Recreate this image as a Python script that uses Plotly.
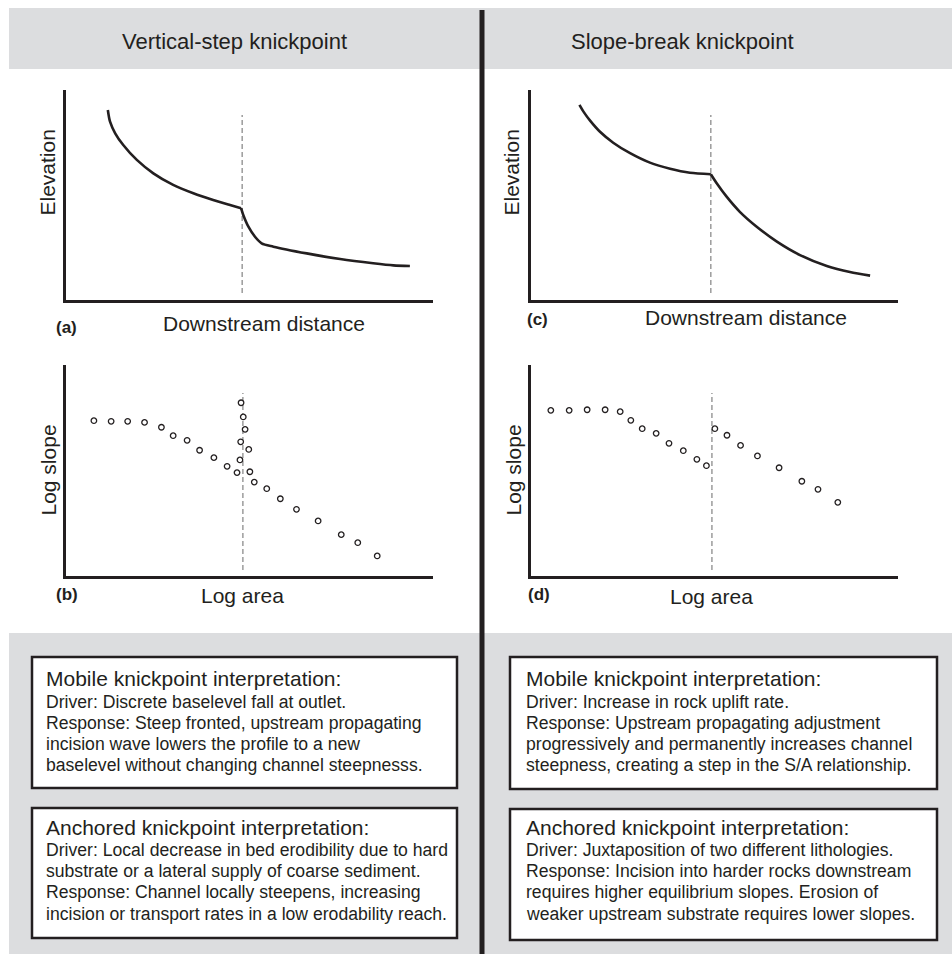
import plotly.graph_objects as go

W, H = 952, 954
INK = "#231f20"
GRAY_BG = "#dcdddf"
DASH_C = "#8c8c8c"
FONT = "Liberation Sans, Arial, Helvetica, sans-serif"

# ---------------- data (relative units 0-100) ----------------
# (a) vertical-step knickpoint: long profile
prof_a_up_x = [11.4, 12.0, 13.4, 15.6, 19.3, 23.8, 29.2, 34.7, 40.1, 44.7, 47.7]
prof_a_up_y = [90.5, 84.9, 79.4, 73.8, 66.7, 60.3, 54.8, 50.8, 47.6, 45.2, 43.7]
prof_a_dn_x = [47.7, 48.3, 49.7, 51.5, 53.3, 56.5, 65.6, 74.7, 83.7, 89.2, 93.7]
prof_a_dn_y = [43.7, 40.5, 34.9, 30.1, 27.0, 25.4, 22.2, 19.5, 17.5, 16.5, 16.2]
knick_a_x = 48.0

# (c) slope-break knickpoint: long profile
prof_c_up_x = [13.2, 14.3, 16.1, 18.8, 22.4, 27.0, 32.4, 37.9, 43.3, 49.0]
prof_c_up_y = [92.9, 89.7, 85.4, 80.1, 74.9, 69.9, 65.4, 62.5, 60.6, 59.9]
prof_c_dn_x = [49.0, 50.6, 53.3, 56.9, 61.5, 67.0, 73.3, 80.6, 86.9, 92.4]
prof_c_dn_y = [59.9, 55.6, 49.2, 42.0, 34.9, 27.8, 21.4, 16.2, 13.3, 11.6]
knick_c_x = 49.0

# (b) vertical-step knickpoint: slope-area
sa_b_x = [7.6, 12.3, 16.8, 21.4, 26.0, 29.2, 33.0, 36.4, 40.3, 43.9, 46.6,
          47.4, 47.6, 48.8, 48.3, 47.7,
          49.8, 50.1, 51.3, 54.7, 58.4, 62.8, 68.7, 75.0, 79.5, 84.8]
sa_b_y = [73.6, 73.3, 73.3, 72.8, 70.5, 66.5, 64.3, 59.6, 56.1, 52.0, 49.0,
          55.0, 63.6, 69.5, 75.4, 82.1,
          60.0, 49.4, 44.5, 41.4, 36.6, 31.6, 26.1, 19.6, 15.8, 9.5]
knick_b_x = 48.2

# (d) slope-break knickpoint: slope-area
sa_d_x = [5.4, 10.4, 15.3, 20.2, 24.3, 27.2, 30.3, 34.1, 37.6, 41.5, 45.2, 47.8,
          50.1, 53.4, 57.1, 61.7, 67.6, 73.8, 78.2, 83.6]
sa_d_y = [78.5, 78.5, 78.8, 78.8, 77.9, 73.8, 69.8, 67.6, 62.9, 59.4, 55.3, 52.3,
          69.8, 66.7, 61.9, 56.9, 51.3, 44.9, 41.1, 34.9]
knick_d_x = 49.3

dash_top_profile, dash_bot_profile = 88.1, 3.3
dash_top_sa, dash_bot_sa = 86.7, 2.8

header_left = "Vertical-step knickpoint"
header_right = "Slope-break knickpoint"

box_left_mobile = ["Mobile knickpoint interpretation:",
                   "Driver: Discrete baselevel fall at outlet.",
                   "Response: Steep fronted, upstream propagating",
                   "incision wave lowers the profile to a new",
                   "baselevel without changing channel steepnesss."]
box_left_anchored = ["Anchored knickpoint interpretation:",
                     "Driver: Local decrease in bed erodibility due to hard",
                     "substrate or a lateral supply of coarse sediment.",
                     "Response: Channel locally steepens, increasing",
                     "incision or transport rates in a low erodability reach."]
box_right_mobile = ["Mobile knickpoint interpretation:",
                    "Driver: Increase in rock uplift rate.",
                    "Response: Upstream propagating adjustment",
                    "progressively and permanently increases channel",
                    "steepness, creating a step in the S/A relationship."]
box_right_anchored = ["Anchored knickpoint interpretation:",
                      "Driver: Juxtaposition of two different lithologies.",
                      "Response: Incision into harder rocks downstream",
                      "requires higher equilibrium slopes. Erosion of",
                      "weaker upstream substrate requires lower slopes."]

# ---------------- layout helpers (pixels -> paper) ----------------
def px(p):
    return p / W

def py(p):
    return 1 - p / H

panels = {
    "a": dict(ax="", x0=66, x1=433, y0=90, y1=300),
    "c": dict(ax="2", x0=531, x1=898, y0=90, y1=300),
    "b": dict(ax="3", x0=66, x1=433, y0=365, y1=576),
    "d": dict(ax="4", x0=531, x1=898, y0=365, y1=576),
}

fig = go.Figure()

def add_line(panel, xs, ys):
    a = panels[panel]["ax"]
    fig.add_trace(go.Scatter(x=xs, y=ys, mode="lines", xaxis="x" + a, yaxis="y" + a,
                             line=dict(color=INK, width=2.6, shape="spline", smoothing=0.8),
                             hoverinfo="skip", showlegend=False))

def add_dash(panel, xk, ytop, ybot):
    a = panels[panel]["ax"]
    fig.add_trace(go.Scatter(x=[xk, xk], y=[ybot, ytop], mode="lines", xaxis="x" + a, yaxis="y" + a,
                             line=dict(color=DASH_C, width=1.3, dash="5px,3px"),
                             hoverinfo="skip", showlegend=False))

def add_pts(panel, xs, ys):
    a = panels[panel]["ax"]
    fig.add_trace(go.Scatter(x=xs, y=ys, mode="markers", xaxis="x" + a, yaxis="y" + a,
                             marker=dict(symbol="circle", size=5.5, color="white",
                                         line=dict(color=INK, width=1.3)),
                             hoverinfo="skip", showlegend=False))

add_dash("a", knick_a_x, dash_top_profile, dash_bot_profile)
add_line("a", prof_a_up_x, prof_a_up_y)
add_line("a", prof_a_dn_x, prof_a_dn_y)

add_dash("c", knick_c_x, dash_top_profile, dash_bot_profile)
add_line("c", prof_c_up_x, prof_c_up_y)
add_line("c", prof_c_dn_x, prof_c_dn_y)

add_dash("b", knick_b_x, dash_top_sa, dash_bot_sa)
add_pts("b", sa_b_x, sa_b_y)

add_dash("d", knick_d_x, dash_top_sa, dash_bot_sa)
add_pts("d", sa_d_x, sa_d_y)

layout = dict(width=W, height=H, margin=dict(l=0, r=0, t=0, b=0),
              paper_bgcolor="white", plot_bgcolor="rgba(0,0,0,0)", showlegend=False)

for k, p in panels.items():
    a = p["ax"]
    common = dict(range=[0, 100], showline=True, linecolor=INK, linewidth=2.6,
                  showgrid=False, zeroline=False, showticklabels=False, ticks="",
                  fixedrange=True)
    layout["xaxis" + a] = dict(domain=[px(p["x0"]), px(p["x1"])], anchor="y" + a, **common)
    layout["yaxis" + a] = dict(domain=[py(p["y1"]), py(p["y0"])], anchor="x" + a, **common)

fig.update_layout(**layout)

# ---------------- background shapes ----------------
shapes = []
shapes.append(dict(type="rect", xref="paper", yref="paper", x0=px(9), x1=px(952), y0=py(69), y1=py(8),
                   fillcolor=GRAY_BG, line=dict(width=0), layer="below"))
shapes.append(dict(type="rect", xref="paper", yref="paper", x0=px(9), x1=px(952), y0=py(954), y1=py(633),
                   fillcolor=GRAY_BG, line=dict(width=0), layer="below"))
for (x0, x1, y0, y1) in [(32, 457, 657, 788), (32, 457, 808, 938), (510, 937, 657, 789), (510, 937, 809, 940)]:
    shapes.append(dict(type="rect", xref="paper", yref="paper", x0=px(x0), x1=px(x1), y0=py(y1), y1=py(y0),
                       fillcolor="white", line=dict(color=INK, width=2.5), layer="below"))
shapes.append(dict(type="line", xref="paper", yref="paper", x0=px(482), x1=px(482), y0=py(954), y1=py(10),
                   line=dict(color=INK, width=5)))
fig.update_layout(shapes=shapes)

# ---------------- text ----------------
ann = []

def text(s, x, y, size, xanchor="center", bold=False, angle=0):
    ann.append(dict(text=("<b>%s</b>" % s) if bold else s, x=px(x), y=py(y), xref="paper", yref="paper",
                    xanchor=xanchor, yanchor="middle", showarrow=False, textangle=angle,
                    font=dict(family=FONT, size=size, color=INK)))

text(header_left, 234.5, 41, 22)
text(header_right, 682.5, 41, 22)

text("Elevation", 46.5, 173, 21, angle=-90)
text("Elevation", 510.5, 173, 21, angle=-90)
text("Downstream distance", 264, 324, 21)
text("Downstream distance", 746, 318, 21)
text("(a)", 66, 327, 17, bold=True)
text("(c)", 537.5, 319, 17, bold=True)

text("Log slope", 47.5, 470, 21, angle=-90)
text("Log slope", 513, 470.5, 21, angle=-90)
text("Log area", 242, 595, 21)
text("Log area", 711.5, 596, 21)
text("(b)", 66.5, 594, 17, bold=True)
text("(d)", 538.5, 594, 17, bold=True)

def box_text(lines, x, ys):
    for i, (s, y) in enumerate(zip(lines, ys)):
        text(s, x, y, 21 if i == 0 else 17.6, xanchor="left")

ys_top = [678.5, 701.5, 722.5, 743.5, 765]
ys_bot = [827.5, 850, 871, 892, 914]
box_text(box_left_mobile, 44, ys_top)
box_text(box_left_anchored, 43.5, ys_bot)
box_text(box_right_mobile, 523.5, ys_top)
box_text(box_right_anchored, 523.5, ys_bot)

fig.update_layout(annotations=ann)

# remove the browser's default 8px body margin so the figure sits at the page origin
fig.write_html("out.html",
               config={"displayModeBar": False, "staticPlot": True},
               post_script="document.body.style.margin='0';document.body.style.padding='0';")
